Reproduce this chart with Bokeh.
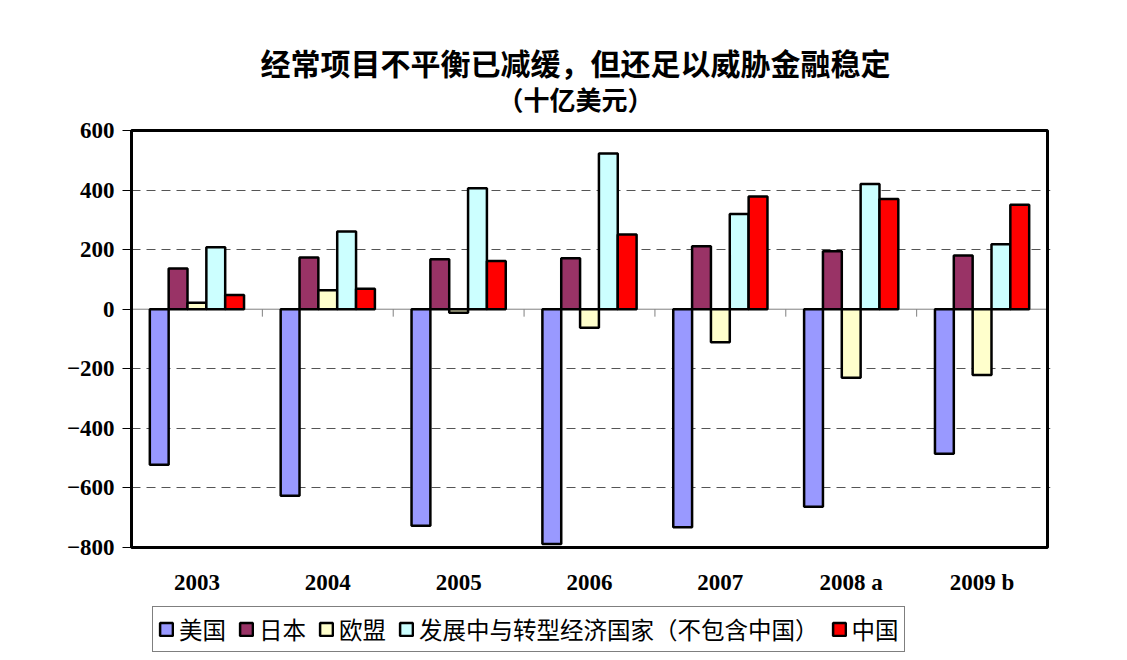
from bokeh.plotting import figure
from bokeh.models import (Range1d, ColumnDataSource, FixedTicker, Legend, LegendItem)
from bokeh.core.properties import value
from bokeh.transform import dodge
from bokeh.embed import file_html
from bokeh.resources import INLINE
import numpy as np

years = ["2003", "2004", "2005", "2006", "2007", "2008 a", "2009 b"]
us = [-522, -626, -727, -788, -732, -663, -485]
japan = [137, 174, 168, 171, 211, 195, 180]
eu = [22, 64, -12, -62, -111, -230, -221]
dev = [208, 261, 406, 523, 320, 420, 218]
china = [48, 69, 162, 251, 378, 370, 351]

series_names = ["美国", "日本", "欧盟", "发展中与转型经济国家（不包含中国）", "中国"]
colors = ["#9999FF", "#993366", "#FFFFCC", "#CCFFFF", "#FF0000"]
y_ticks = [-800, -600, -400, -200, 0, 200, 400, 600]
title_1 = "经常项目不平衡已减缓，但还足以威胁金融稳定"
title_2 = "（十亿美元）"

CJK = "Noto Sans CJK SC"
SERIF = "Liberation Serif"

n = len(years)
y_lo, y_hi = -800, 600
plot_h = 417                      # pixel height of the value area
upx = (y_hi - y_lo) / plot_h      # data units per pixel
gpx = 916 / n                     # pixels per category

centers = np.arange(n) + 0.5
src = ColumnDataSource(dict(x=centers, year=years, us=us, japan=japan, eu=eu, dev=dev, china=china))
keys = ["us", "japan", "eu", "dev", "china"]

p = figure(frame_width=919, frame_height=660,
           x_range=Range1d(0, n + 3 / gpx),
           y_range=Range1d(y_lo - 113 * upx, y_hi + 130 * upx),
           output_backend="svg", toolbar_location=None,
           min_border_left=131, min_border_right=77, min_border_top=0, min_border_bottom=0)
p.outline_line_color = None

# value-area box
p.quad(left=[0], right=[n], bottom=[y_lo], top=[y_hi], fill_color=None,
       line_color="black", line_width=3, level="overlay")

bw = 0.144
renderers = []
for i, k in enumerate(keys):
    off = (i - 2) * bw
    r = p.vbar(x=dodge("x", off), top=k, bottom=0, width=bw, source=src,
               fill_color=colors[i], line_color="black", line_width=2.5)
    renderers.append(r)

# zero line and category boundary ticks
p.segment(x0=[0], y0=[0], x1=[n], y1=[0], line_color="#808080", line_width=1, level="underlay")
bounds = np.arange(1, n)
p.segment(x0=bounds, y0=np.zeros(len(bounds)), x1=bounds, y1=np.full(len(bounds), -25.0),
          line_color="#808080", line_width=1)

# y axis
p.yaxis.bounds = (y_lo, y_hi)
p.yaxis.ticker = FixedTicker(ticks=y_ticks)
p.yaxis.major_label_text_font = SERIF
p.yaxis.major_label_text_font_style = "bold"
p.yaxis.major_label_text_font_size = "23px"
p.yaxis.major_label_text_color = "black"
p.yaxis.major_tick_out = 9
p.yaxis.major_tick_in = 0
p.yaxis.minor_tick_line_color = None
p.yaxis.axis_line_width = 3
p.yaxis.major_tick_line_width = 1
p.yaxis.major_label_standoff = 8

# x axis labels as text below the value area
p.xaxis.visible = False
p.text(x=centers, y=np.full(n, y_lo - 35 * upx), text=years, text_align="center",
       text_baseline="middle", text_font=value(SERIF), text_font_style="bold",
       text_font_size="23px", text_color="black")

p.xgrid.grid_line_color = None
p.ygrid.ticker = FixedTicker(ticks=[-600, -400, -200, 200, 400])
p.ygrid.grid_line_color = "#555555"
p.ygrid.grid_line_dash = "9 6"
p.ygrid.grid_line_width = 1.2

# titles
tx = n / 2 - 14 / gpx
p.text(x=[tx], y=[y_hi + 69 * upx], text=[title_1], text_align="center", text_baseline="middle",
       text_font=value(CJK), text_font_style="bold", text_font_size="30px", text_color="black")
p.text(x=[tx], y=[y_hi + 32 * upx], text=[title_2], text_align="center", text_baseline="middle",
       text_font=value(CJK), text_font_style="bold", text_font_size="26px", text_color="black")
p.title.visible = False

items = [LegendItem(label=series_names[i], renderers=[renderers[i]]) for i in range(5)]
legend = Legend(items=items, orientation="horizontal", location=(21, 8), ncols=5, nrows=1,
                label_text_font=CJK, label_text_font_size="23.5px", label_text_color="black",
                label_height=20, glyph_width=16, glyph_height=16, label_standoff=5, spacing=12,
                padding=5, margin=0, border_line_color="black", border_line_width=1.2,
                background_fill_alpha=1)
p.add_layout(legend, "center")

open("out.html", "w").write(file_html(p, INLINE))
